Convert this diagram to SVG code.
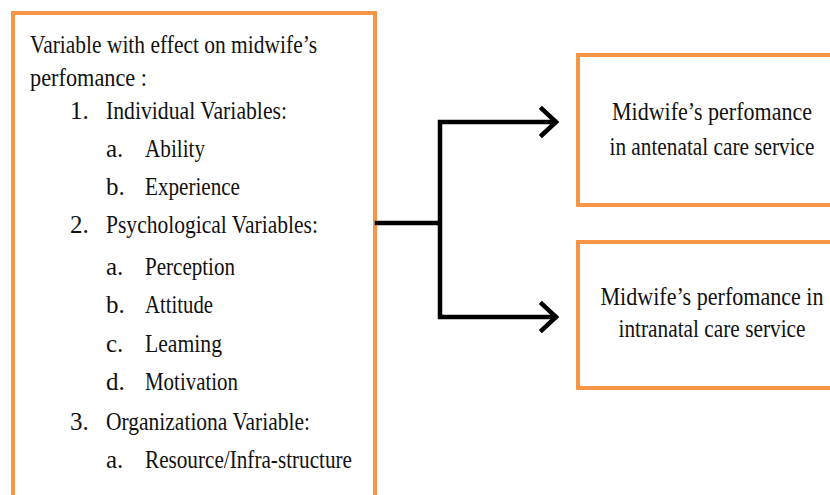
<svg xmlns="http://www.w3.org/2000/svg" width="830" height="495" viewBox="0 0 830 495">
<style>
.box{fill:#fff;stroke:#F79646;stroke-width:4}
.c{text-anchor:middle}
.ln{fill:none;stroke:#000;stroke-width:4.5;stroke-linejoin:miter;stroke-linecap:square}
</style>
<rect width="830" height="495" fill="#fff"/>
<g font-family="Liberation Serif" font-size="25" fill="#111">
<g id="left">
<rect class="box" x="13" y="13" width="362" height="500"/>
<text x="30" y="53" textLength="287" lengthAdjust="spacingAndGlyphs">Variable with effect on midwife’s</text>
<text x="30" y="86" textLength="117" lengthAdjust="spacingAndGlyphs">perfomance :</text>
<text x="70" y="119">1.</text>
<text x="106" y="119" textLength="181" lengthAdjust="spacingAndGlyphs">Individual Variables:</text>
<text x="106" y="157">a.</text>
<text x="145" y="157" textLength="60" lengthAdjust="spacingAndGlyphs">Ability</text>
<text x="106" y="195">b.</text>
<text x="145" y="195" textLength="95" lengthAdjust="spacingAndGlyphs">Experience</text>
<text x="70" y="233">2.</text>
<text x="106" y="233" textLength="212" lengthAdjust="spacingAndGlyphs">Psychological Variables:</text>
<text x="106" y="275">a.</text>
<text x="145" y="275" textLength="90" lengthAdjust="spacingAndGlyphs">Perception</text>
<text x="106" y="313">b.</text>
<text x="145" y="313" textLength="68" lengthAdjust="spacingAndGlyphs">Attitude</text>
<text x="106" y="352">c.</text>
<text x="145" y="352" textLength="77" lengthAdjust="spacingAndGlyphs">Leaming</text>
<text x="106" y="390">d.</text>
<text x="145" y="390" textLength="93" lengthAdjust="spacingAndGlyphs">Motivation</text>
<text x="70" y="430">3.</text>
<text x="106" y="430" textLength="204" lengthAdjust="spacingAndGlyphs">Organizationa Variable:</text>
<text x="106" y="468">a.</text>
<text x="145" y="468" textLength="207" lengthAdjust="spacingAndGlyphs">Resource/Infra-structure</text>
</g>
<g id="antenatal">
<rect class="box" x="578" y="55" width="270" height="150"/>
<text class="c" x="712" y="120" textLength="200" lengthAdjust="spacingAndGlyphs">Midwife’s perfomance</text>
<text class="c" x="712" y="155" textLength="205" lengthAdjust="spacingAndGlyphs">in antenatal care service</text>
</g>
<g id="intranatal">
<rect class="box" x="578" y="242" width="270" height="146"/>
<text class="c" x="712" y="305" textLength="223" lengthAdjust="spacingAndGlyphs">Midwife’s perfomance in</text>
<text class="c" x="712" y="337" textLength="187" lengthAdjust="spacingAndGlyphs">intranatal care service</text>
</g>
</g>
<g id="connectors">
<path class="ln" d="M377 223 H440 M440 122 V317 M440 122 H555 M440 317 H555"/>
<path class="ln" d="M542 109 L556 122 L542 135 M542 304 L556 317 L542 330"/>
</g>
</svg>
